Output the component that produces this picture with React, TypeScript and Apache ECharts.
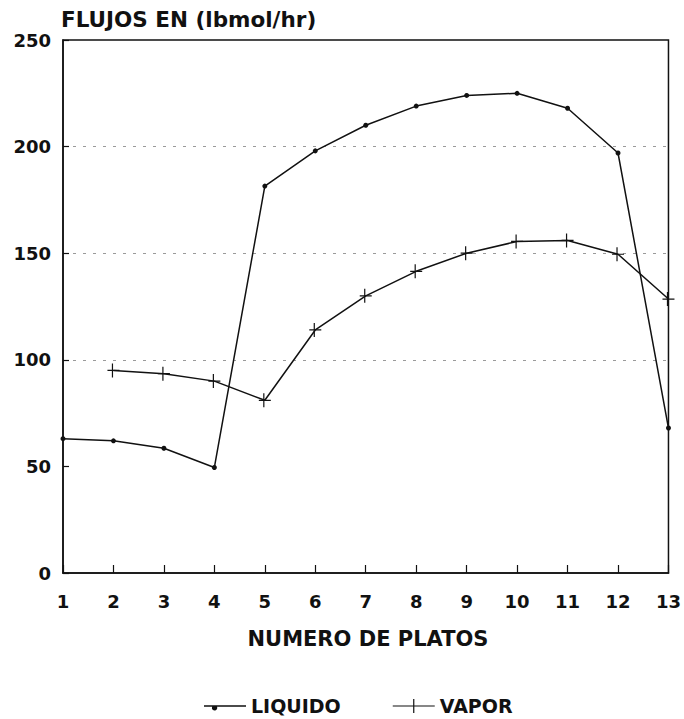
import React, { useEffect, useRef } from "react";
import * as echarts from "echarts";

const plates = [1, 2, 3, 4, 5, 6, 7, 8, 9, 10, 11, 12, 13];
const liquido = [63, 62, 58.5, 49.5, 181.5, 198, 210, 219, 224, 225, 218, 197, 68];
const vapor: (number | null)[] = [null, 95, 93.5, 90, 81, 114, 130, 141.5, 150, 155.5, 156, 149.5, 128.5];
const yTicks = [0, 50, 100, 150, 200, 250];
const gridValues = [100, 150, 200];

const titleText = "FLUJOS EN (lbmol/hr)";
const xName = "NUMERO DE PLATOS";
const seriesNames = ["LIQUIDO", "VAPOR"];

const FONT = "'DejaVu Sans', 'Liberation Sans', Arial, sans-serif";

const plusSymbol = "path://M5.6,0 L5.6,6.4 L12,6.4 L12,7.6 L5.6,7.6 L5.6,14 L4.4,14 L4.4,7.6 L0,7.6 L0,6.4 L4.4,6.4 L4.4,0 Z";
const liqIcon =
  "path://M0,0 L0,0 Z M42,14 L42,14 Z M0,6.3 L42,6.3 L42,7.7 L0,7.7 Z M12.5,7 A2.7,2.7 0 1 1 12.49,6.99 Z";
const vapIcon =
  "path://M0,0 L0,0 Z M42,14 L42,14 Z M0,6.4 L20.4,6.4 L20.4,0 L21.6,0 L21.6,6.4 L42,6.4 L42,7.6 L21.6,7.6 L21.6,14 L20.4,14 L20.4,7.6 L0,7.6 Z";

export default function App() {
  const ref = useRef<HTMLDivElement>(null);
  useEffect(() => {
    if (!ref.current) return;
    const chart = echarts.init(ref.current, undefined, { renderer: "svg" });
    const liqData = plates.map((p, i) => [p, liquido[i]]);
    const vapData = plates
      .map((p, i) => [p, vapor[i]])
      .filter((d) => d[1] !== null);
    const splitColors = yTicks.map((v) => (gridValues.includes(v) ? "#9a9a9a" : "rgba(0,0,0,0)"));
    chart.setOption({
      animation: false,
      backgroundColor: "#ffffff",
      grid: {
        left: 63,
        right: 13,
        top: 40,
        bottom: 146,
        show: true,
        borderColor: "#111",
        borderWidth: 1.5,
        backgroundColor: "transparent",
      },
      xAxis: {
        type: "value",
        min: 1,
        max: 13,
        interval: 1,
        axisLine: { show: true, lineStyle: { color: "#111", width: 1.5 } },
        axisTick: { show: true, inside: true, length: 8, lineStyle: { color: "#111", width: 1.2 } },
        axisLabel: {
          margin: 19,
          color: "#111",
          fontFamily: FONT,
          fontWeight: "bold",
          fontSize: 18,
        },
        splitLine: { show: false },
      },
      yAxis: {
        type: "value",
        min: 0,
        max: 250,
        interval: 50,
        axisLine: { show: true, lineStyle: { color: "#111", width: 1.5 } },
        axisTick: { show: true, inside: true, length: 6, lineStyle: { color: "#111", width: 1.2 } },
        axisLabel: {
          margin: 12,
          color: "#111",
          fontFamily: FONT,
          fontWeight: "bold",
          fontSize: 18,
        },
        splitLine: {
          show: true,
          lineStyle: { color: splitColors, width: 1, type: [3, 7] },
        },
      },
      legend: {
        left: 204,
        top: 695,
        padding: 0,
        itemWidth: 42,
        itemHeight: 14,
        itemGap: 52,
        textStyle: { color: "#111", fontFamily: FONT, fontWeight: "bold", fontSize: 19, lineHeight: 22 },
        data: [
          { name: seriesNames[0], icon: liqIcon, itemStyle: { color: "#111", borderWidth: 0 } },
          { name: seriesNames[1], icon: vapIcon, itemStyle: { color: "#111", borderWidth: 0 } },
        ],
      },
      graphic: [
        {
          type: "text",
          left: 61,
          top: 8,
          style: {
            text: titleText,
            fill: "#111",
            font: `bold 21.5px ${FONT}`,
          },
        },
        {
          type: "text",
          x: 368,
          y: 639,
          style: {
            text: xName,
            fill: "#111",
            font: `bold 21px ${FONT}`,
            align: "center",
            verticalAlign: "middle",
          },
        },
      ],
      series: [
        {
          name: seriesNames[0],
          type: "line",
          data: liqData,
          symbol: "circle",
          symbolSize: 5,
          itemStyle: { color: "#111" },
          lineStyle: { color: "#111", width: 1.5 },
        },
        {
          name: seriesNames[1],
          type: "line",
          data: vapData,
          symbol: plusSymbol,
          symbolSize: [12, 14],
          itemStyle: { color: "#111" },
          lineStyle: { color: "#111", width: 1.5 },
        },
      ],
    });
    return () => chart.dispose();
  }, []);
  return (
    <div
      ref={ref}
      style={{ position: "fixed", left: 0, top: 0, width: 684, height: 719, background: "#fff" }}
    />
  );
}
